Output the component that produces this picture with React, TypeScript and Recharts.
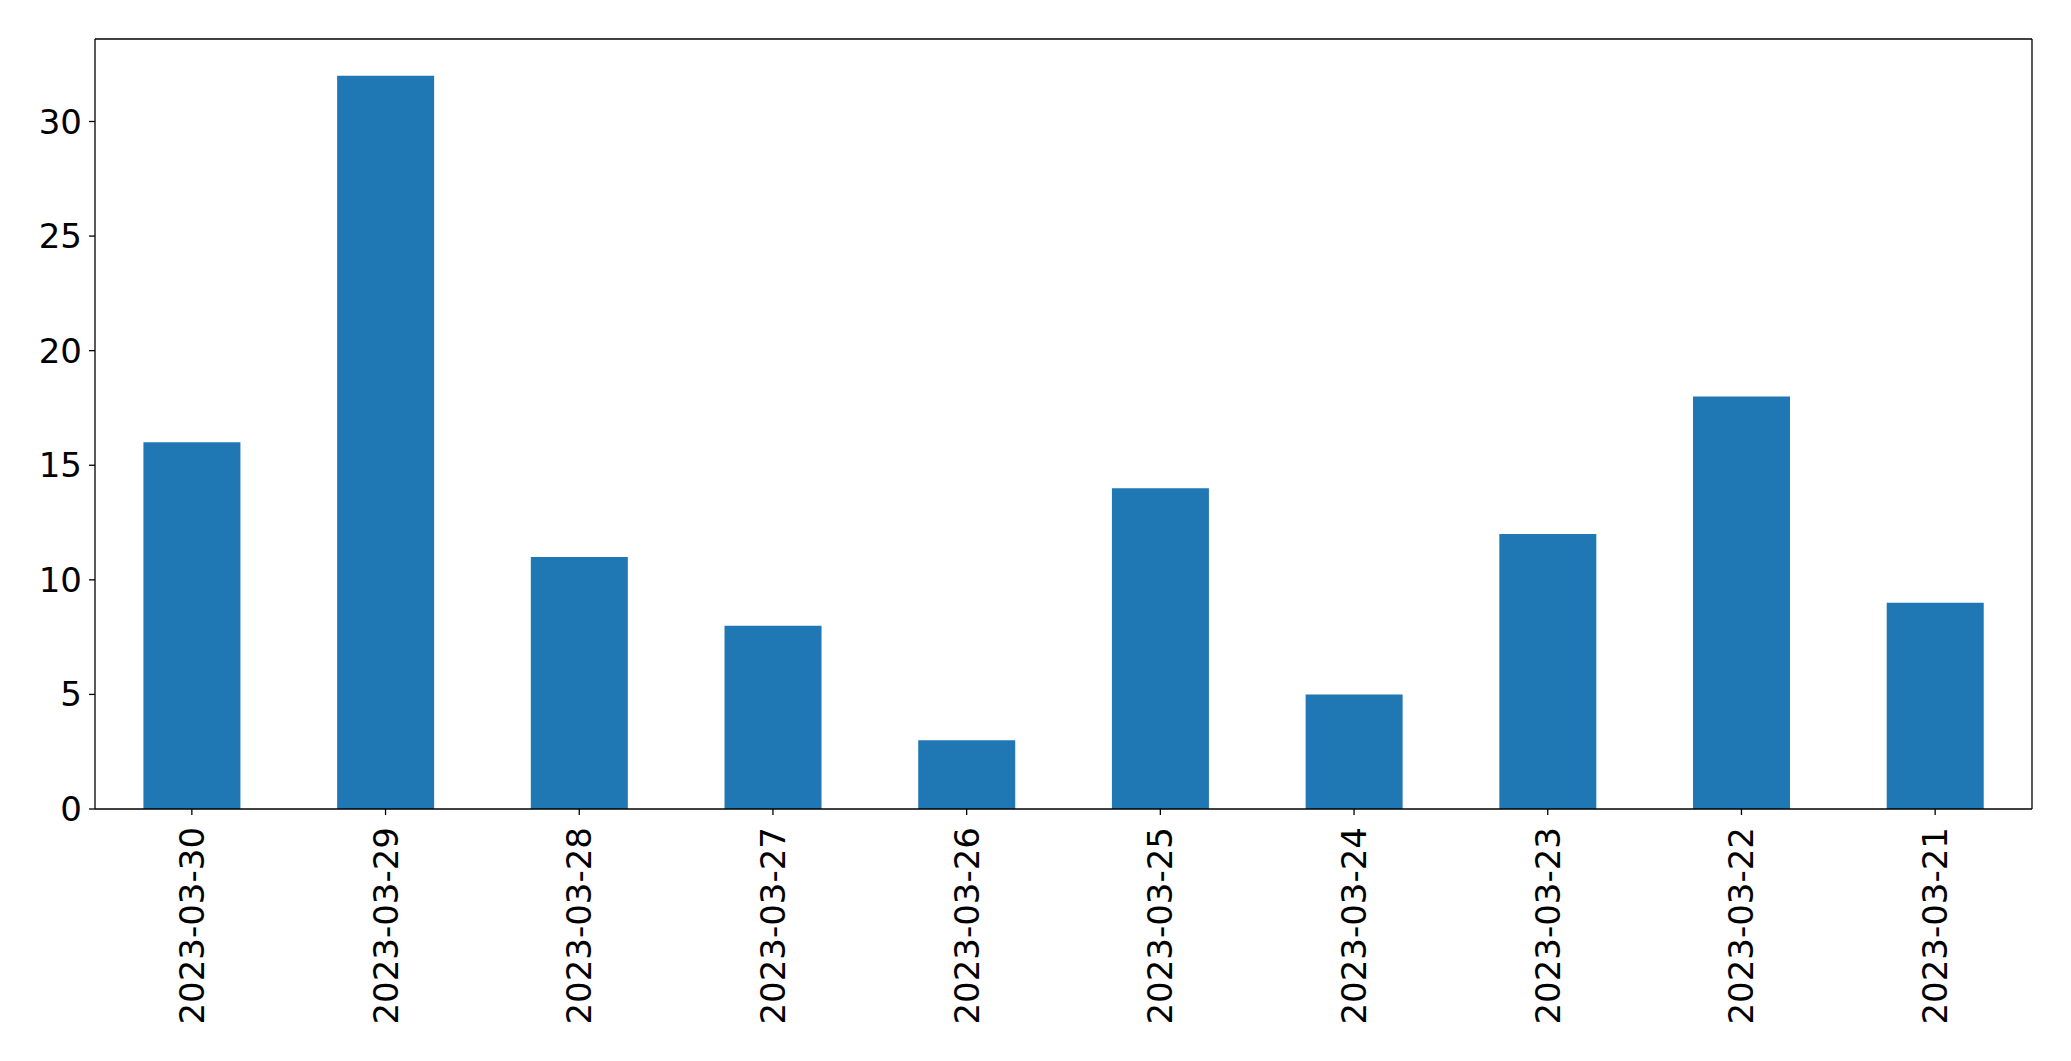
import { BarChart, Bar, XAxis, YAxis } from 'recharts'

// daily counts, newest first (as in the source plot)
const DATES = ['2023-03-30', '2023-03-29', '2023-03-28', '2023-03-27', '2023-03-26',
  '2023-03-25', '2023-03-24', '2023-03-23', '2023-03-22', '2023-03-21']
const COUNTS = [16, 32, 11, 8, 3, 14, 5, 12, 18, 9]
const Y_TICKS = [0, 5, 10, 15, 20, 25, 30]

const FONT = '"DejaVu Sans", sans-serif'
const BLUE = '#1f77b4'

const rows = DATES.map((d, i) => ({ date: d, count: COUNTS[i] }))

function DateTick(props: any) {
  const { x, y, payload } = props
  const ty = y + 10
  return (
    <text x={x} y={ty} transform={`rotate(-90, ${x}, ${ty})`} textAnchor="end"
      dominantBaseline="central" fontFamily={FONT} fontSize={34} fill="#000">
      {payload.value}
    </text>
  )
}

function CountTick(props: any) {
  const { x, y, payload } = props
  return (
    <text x={x} y={y} textAnchor="end" dominantBaseline="central"
      fontFamily={FONT} fontSize={34} fill="#000">
      {payload.value}
    </text>
  )
}

export default function App() {
  return (
    <div style={{ position: 'absolute', left: 0, top: 0, background: '#fff' }}>
      <BarChart width={2071} height={1061} data={rows} barCategoryGap="25%"
        margin={{ top: 38, right: 38, bottom: 0, left: 0 }}>
        <XAxis dataKey="date" height={252} interval={0} tick={<DateTick />}
          tickSize={6} stroke="#000" strokeWidth={1.3} />
        <XAxis xAxisId="top" orientation="top" dataKey="date" height={1} tick={false}
          tickLine={false} stroke="#000" strokeWidth={1.3} />
        <YAxis width={95} domain={[0, 33.6]} ticks={Y_TICKS} tickSize={6} tickMargin={7}
          stroke="#000" strokeWidth={1.3} tick={<CountTick />} />
        <YAxis yAxisId="right" orientation="right" width={1} tick={false} tickLine={false}
          stroke="#000" strokeWidth={1.3} />
        <Bar dataKey="count" fill={BLUE} isAnimationActive={false} />
      </BarChart>
    </div>
  )
}
